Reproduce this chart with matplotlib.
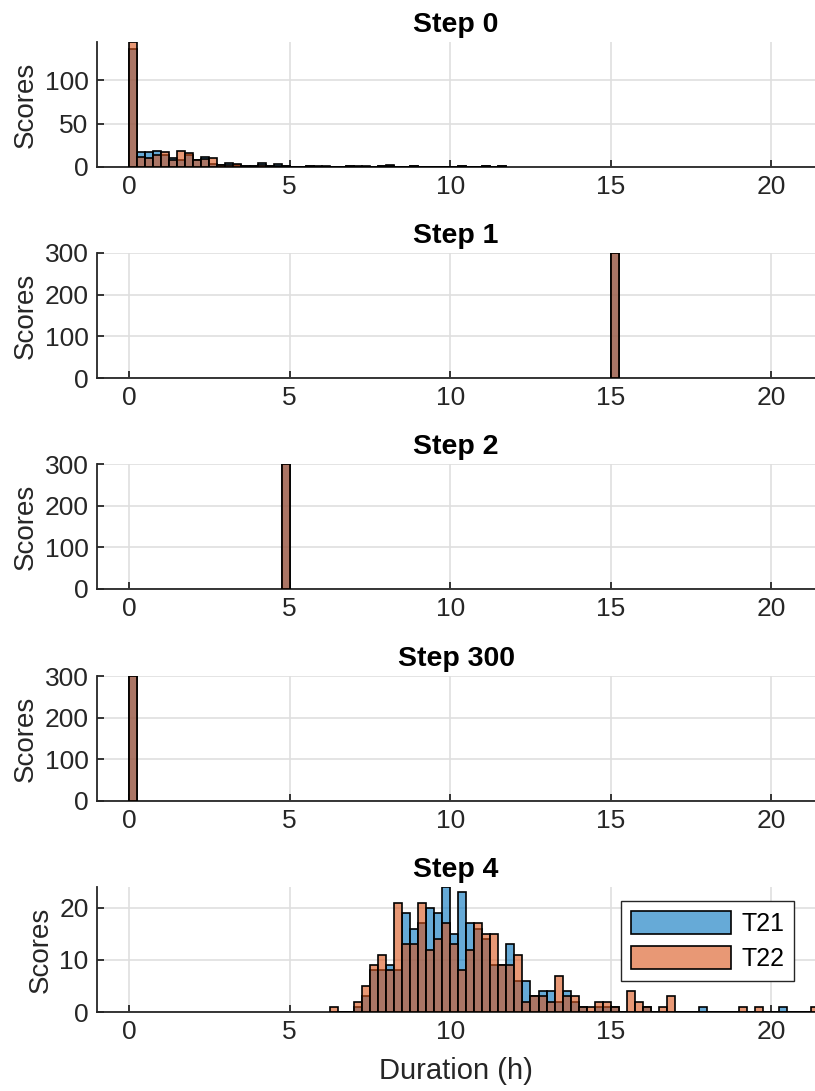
import numpy as np
import matplotlib
matplotlib.use("Agg")
import matplotlib.pyplot as plt

plt.rcParams['font.family'] = ['Liberation Sans', 'DejaVu Sans']

BIN = 0.25
titles = ['Step 0', 'Step 1', 'Step 2', 'Step 300', 'Step 4']
series_names = ['T21', 'T22']

# Step 0: counts per 0.25 h bin, starting at 0 h
step0_t21 = [136, 17, 17, 18, 14, 10, 8, 14, 8, 12, 4, 2, 5, 2, 1, 1, 5, 1, 4, 1,
             0, 0, 1, 1, 0, 0, 0, 1, 1, 0, 0, 1, 2, 0, 0, 1, 0, 0, 0, 0,
             0, 1, 0, 0, 1, 0, 1]
step0_t22 = [144, 12, 10, 14, 17, 8, 18, 16, 8, 9, 10, 2, 2, 4, 1, 1, 2, 1, 1, 1,
             0, 0, 1, 0, 1, 0, 0, 1, 0, 1, 0, 1, 1, 0, 0, 1, 0, 0, 0, 0,
             0, 1, 0, 0, 1, 0, 1]

# Steps 1, 2, 300: everything in a single bin (bin start in hours)
step1_bin, step1_count = 15.0, 300
step2_bin, step2_count = 4.75, 300
step300_bin, step300_count = 0.0, 300

# Step 4: counts per 0.25 h bin, starting at 6.25 h
step4_start = 6.25
step4_t21 = [0, 0, 0, 1, 3, 8, 8, 9, 8, 19, 16, 17, 20, 19, 24, 15, 23, 17, 16, 14,
             9, 9, 13, 6, 6, 3, 4, 4, 2, 4, 2, 1, 0, 1, 1, 1, 0, 0, 0, 1,
             0, 0, 0, 0, 0, 0, 1, 0, 0, 0, 0, 0, 0, 0, 0, 0, 1, 0, 0, 0, 0]
step4_t22 = [1, 0, 0, 2, 5, 9, 11, 8, 21, 13, 13, 21, 12, 14, 17, 13, 8, 12, 17, 15,
             15, 9, 9, 11, 2, 3, 3, 2, 7, 3, 3, 1, 1, 2, 2, 1, 0, 4, 2, 1,
             0, 1, 3, 0, 0, 0, 0, 0, 0, 0, 0, 1, 0, 1, 0, 0, 0, 0, 0, 0, 1]

blue = (0.0, 0.447, 0.741, 0.6)
orange = (0.85, 0.325, 0.098, 0.6)


def full_counts(start, counts):
    starts = start + BIN * np.arange(len(counts))
    return starts, np.array(counts)


def draw(ax, starts, counts, color, label=None):
    # face is semi-transparent, edge stays solid black (MATLAB histogram look)
    ax.bar(starts, counts, width=BIN, align='edge', facecolor=color,
           edgecolor='black', linewidth=1.2, label=label, zorder=3)


fig = plt.figure(figsize=(8.15, 10.91), dpi=100)
H = 1091.0
tops = [42, 253, 464, 676, 887]
ax_h = 125
left = 97 / 815.0

panels = [
    (full_counts(0.0, step0_t21), full_counts(0.0, step0_t22), (0, 144), [0, 50, 100]),
    (full_counts(step1_bin, [step1_count]), full_counts(step1_bin, [step1_count]), (0, 300), [0, 100, 200, 300]),
    (full_counts(step2_bin, [step2_count]), full_counts(step2_bin, [step2_count]), (0, 300), [0, 100, 200, 300]),
    (full_counts(step300_bin, [step300_count]), full_counts(step300_bin, [step300_count]), (0, 300), [0, 100, 200, 300]),
    (full_counts(step4_start, step4_t21), full_counts(step4_start, step4_t22), (0, 24), [0, 10, 20]),
]

for i, (s21, s22, ylim, yticks) in enumerate(panels):
    ax = fig.add_axes([left, 1 - (tops[i] + ax_h) / H, 1 - left, ax_h / H])
    draw(ax, s21[0], s21[1], blue, series_names[0])
    draw(ax, s22[0], s22[1], orange, series_names[1])
    ax.set_xlim(-1, 21.36)
    ax.set_ylim(*ylim)
    ax.set_xticks([0, 5, 10, 15, 20])
    ax.set_yticks(yticks)
    ax.grid(True, color='#dfdfdf', linewidth=1.2, zorder=0)
    ax.set_axisbelow(True)
    for side in ['top', 'right']:
        ax.spines[side].set_visible(False)
    for side in ['left', 'bottom']:
        ax.spines[side].set_color('#262626')
        ax.spines[side].set_linewidth(1.3)
    ax.tick_params(direction='in', length=5, width=1.3, colors='#262626',
                   labelsize=19, labelcolor='#262626', pad=6)
    ax.set_ylabel('Scores', fontsize=20, color='#262626', labelpad=4)
    ax.set_title(titles[i], fontsize=20.5, fontweight='bold', pad=7)
    if i == 4:
        ax.set_xlabel('Duration (h)', fontsize=21, color='#262626', labelpad=9)
        leg = ax.legend(loc='upper right', bbox_to_anchor=(0.971, 0.888), fontsize=18,
                        handlelength=4.0, handleheight=1.05, fancybox=False,
                        edgecolor='#262626', framealpha=1, borderpad=0.4,
                        labelspacing=0.4, handletextpad=0.4, borderaxespad=0)
        leg.get_frame().set_linewidth(1.0)

fig.savefig('out.png', dpi=100)
